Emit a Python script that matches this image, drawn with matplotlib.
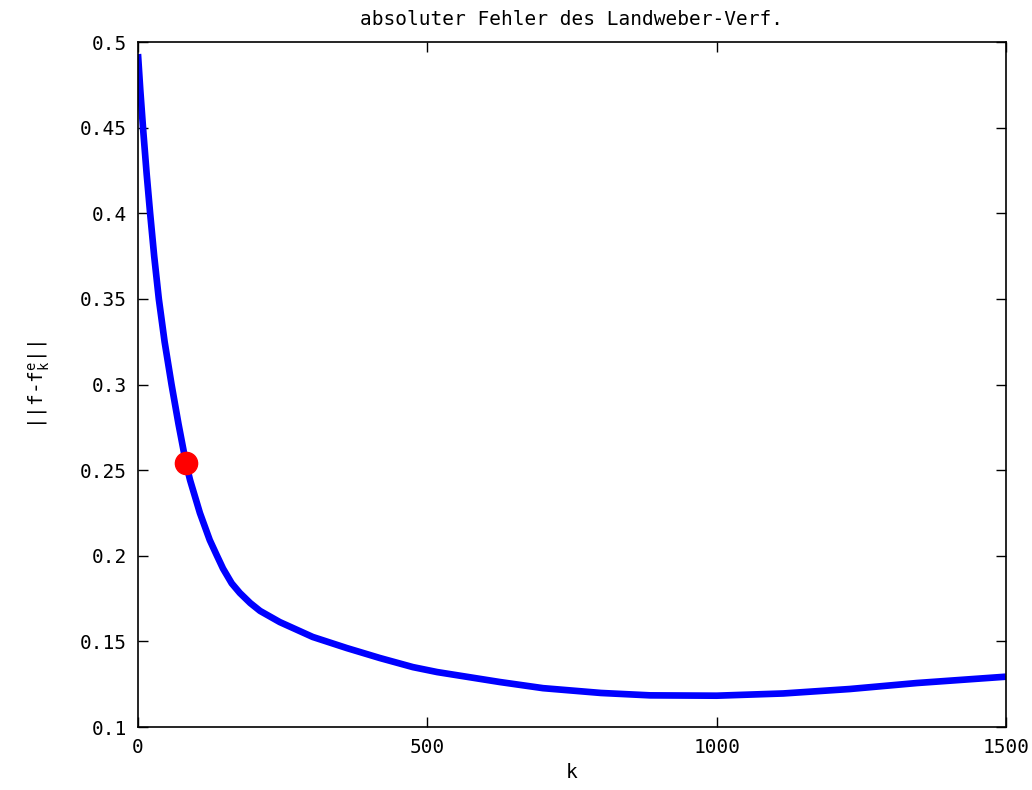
import matplotlib
matplotlib.use("Agg")
import matplotlib.pyplot as plt

# Landweber iteration: absolute error over iteration index k
k = [0, 4, 9, 15, 21, 28, 36, 46, 58, 70, 83, 90, 107, 124, 136, 147,
     162, 176, 194, 211, 245, 302, 361, 418, 475, 517, 625, 700, 800, 885,
     1000, 1115, 1230, 1346, 1500]
err = [0.493, 0.472, 0.4486, 0.423, 0.400, 0.375, 0.350, 0.325, 0.300,
       0.277, 0.254, 0.2442, 0.2250, 0.2092, 0.2004, 0.1925, 0.1839,
       0.1783, 0.1724, 0.1678, 0.1613, 0.1526, 0.1461, 0.1403, 0.1350,
       0.1321, 0.1263, 0.1227, 0.1199, 0.1185, 0.1183, 0.1196, 0.1222,
       0.1257, 0.1294]

# stopping index (discrepancy principle)
k_stop = [83]
err_stop = [0.254]

xticks = [0, 500, 1000, 1500]
yticks = [0.1, 0.15, 0.2, 0.25, 0.3, 0.35, 0.4, 0.45, 0.5]
ytick_labels = ["0.1", "0.15", "0.2", "0.25", "0.3", "0.35", "0.4", "0.45", "0.5"]

plt.rcParams['font.family'] = ['DejaVu Sans Mono']
plt.rcParams['mathtext.fontset'] = 'dejavusans'

fig = plt.figure(figsize=(10.32, 7.90), dpi=100)
ax = fig.add_axes([0.1337, 0.0797, 0.8411, 0.8671])

ax.plot(k, err, color='#0000ff', linewidth=4.8, solid_capstyle='butt',
        solid_joinstyle='round')
ax.plot(k_stop, err_stop, 'o', color='#ff0000', markersize=16)

ax.set_xlim(0, 1500)
ax.set_ylim(0.1, 0.5)
ax.set_xticks(xticks)
ax.set_yticks(yticks)
ax.set_yticklabels(ytick_labels)
ax.tick_params(direction='in', length=7, width=1, top=True, right=True,
               labelsize=14, pad=8)
for s in ax.spines.values():
    s.set_linewidth(1.2)

ax.set_title('absoluter Fehler des Landweber-Verf.', fontsize=14, pad=12)
ax.set_xlabel('k', fontsize=14, labelpad=4)
ax.set_ylabel(r'||f-f$_\mathtt{k}^\mathtt{e}$||', fontsize=14, labelpad=20)

fig.savefig('out.png', dpi=100)
